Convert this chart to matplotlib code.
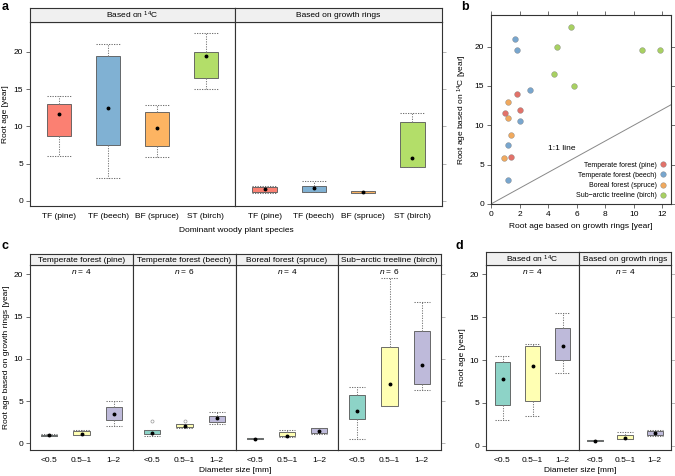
import matplotlib
matplotlib.use('Agg')
import matplotlib.pyplot as plt
from matplotlib.lines import Line2D

# --- panel a : root age per species ---
species = ['TF (pine)', 'TF (beech)', 'BF (spruce)', 'ST (birch)']
sp_colors = ['#FB8072', '#80B1D3', '#FDB462', '#B3DE69']
a_c14_lo = [6.0, 3.0, 5.9, 15.0]
a_c14_q1 = [8.7, 7.5, 7.3, 16.5]
a_c14_med = [11.7, 12.5, 9.8, 19.5]
a_c14_q3 = [13.0, 19.5, 11.9, 20.0]
a_c14_hi = [14.0, 21.0, 12.9, 22.5]
a_gr_lo = [1.0, 1.15, 1.0, 4.5]
a_gr_q1 = [1.15, 1.15, 1.1, 4.5]
a_gr_med = [1.55, 1.7, 1.15, 5.7]
a_gr_q3 = [1.9, 2.0, 1.25, 10.6]
a_gr_hi = [2.0, 2.65, 1.35, 11.8]

# --- panel b : scatter 14C vs growth rings ---
b_labels = ['Temperate forest (pine)', 'Temperate forest (beech)',
            'Boreal forest (spruce)', 'Sub\u2212arctic treeline (birch)']
b_colors = ['#E2726A', '#78A6CE', '#F0A95E', '#A8D062']
b_gr = [[1.8, 2.0, 1.0, 1.4],
        [1.7, 1.8, 2.7, 2.0, 1.2, 1.2],
        [1.2, 1.2, 1.4, 0.9],
        [5.6, 4.6, 10.6, 11.8, 4.4, 5.8]]
b_c14 = [[14.0, 12.0, 11.5, 6.0],
         [21.0, 19.5, 14.5, 10.5, 7.5, 3.0],
         [12.9, 10.9, 8.7, 5.9],
         [22.5, 20.0, 19.5, 19.5, 16.5, 15.0]]

# --- panel c : growth ring age per diameter class ---
diam = ['<0.5', '0.5\u20131', '1\u20132']
diam_colors = ['#8DD3C7', '#FFFFB3', '#BEBADA']
forests = ['Temperate forest (pine)', 'Temperate forest (beech)',
           'Boreal forest (spruce)', 'Sub\u2212arctic treeline (birch)']
c_n = [4, 6, 4, 6]
c_lo = [[0.85, 1.0, 2.0], [0.85, 1.8, 2.3], [0.45, 0.75, 1.1], [0.5, 4.4, 6.3]]
c_q1 = [[0.88, 1.0, 2.7], [1.1, 1.9, 2.5], [0.48, 0.8, 1.2], [2.85, 4.4, 7.0]]
c_med = [[0.95, 1.15, 3.5], [1.25, 2.0, 3.0], [0.5, 0.9, 1.45], [3.8, 7.0, 9.3]]
c_q3 = [[1.0, 1.45, 4.25], [1.6, 2.25, 3.2], [0.6, 1.3, 1.75], [5.7, 11.4, 13.3]]
c_hi = [[1.05, 1.55, 5.0], [1.6, 2.25, 3.7], [0.65, 1.55, 1.85], [6.7, 19.6, 16.7]]
c_out = [[[], [], []], [[2.65], [2.65], []], [[], [], []], [[], [], []]]

# --- panel d : spruce, 14C vs growth rings per diameter class ---
methods = ['Based on $^{14}$C', 'Based on growth rings']
d_n = [4, 4]
d_lo = [[3.0, 3.5, 8.5], [0.5, 0.75, 1.1]]
d_q1 = [[4.75, 5.2, 10.0], [0.55, 0.8, 1.2]]
d_med = [[7.8, 9.25, 11.7], [0.6, 0.9, 1.45]]
d_q3 = [[9.75, 11.65, 13.7], [0.65, 1.3, 1.75]]
d_hi = [[10.5, 11.9, 15.5], [0.7, 1.55, 1.85]]

W, H = 675, 476
FRAME = '#333333'


def px_axes(fig, x0, y0, x1, y1):
    # axes placed with pixel coords (top-left origin)
    return fig.add_axes([x0 / W, 1 - y1 / H, (x1 - x0) / W, (y1 - y0) / H])


def strip(fig, x0, y0, x1, y1, text):
    s = px_axes(fig, x0, y0, x1, y1)
    s.set_facecolor('#F0F0F0')
    s.set_xticks([])
    s.set_yticks([])
    for sp in s.spines.values():
        sp.set_color(FRAME)
        sp.set_linewidth(0.8)
    s.text(0.5, 0.45, text, ha='center', va='center', fontsize=6,
           transform=s.transAxes)
    return s


def draw_boxes(ax, lo, q1, med, q3, hi, colors, width, fliers=None):
    pos = list(range(1, len(med) + 1))
    stats = []
    for i in range(len(med)):
        stats.append(dict(whislo=lo[i], q1=q1[i], med=med[i], q3=q3[i],
                          whishi=hi[i], fliers=fliers[i] if fliers else []))
    dots = (0, (1.2, 1.2))
    bp = ax.bxp(stats, positions=pos, widths=width, capwidths=width,
                patch_artist=True, showfliers=True,
                boxprops=dict(edgecolor='#555555', linewidth=0.6),
                whiskerprops=dict(color='#808080', linestyle=dots, linewidth=0.75),
                capprops=dict(color='#707070', linestyle=dots, linewidth=0.75),
                medianprops=dict(visible=False),
                flierprops=dict(marker='o', markersize=2.2, markerfacecolor='none',
                                markeredgecolor='#999999', markeredgewidth=0.5))
    for patch, c in zip(bp['boxes'], colors):
        patch.set_facecolor(c)
    ax.plot(pos, med, 'o', color='black', markersize=1.8, zorder=5)


def style_panel(ax, xlim, ylim, labels, left=False, right=False):
    ax.set_xlim(*xlim)
    ax.set_ylim(*ylim)
    ax.set_xticks(range(1, len(labels) + 1))
    ax.set_xticklabels(labels, fontsize=6)
    ax.tick_params(axis='x', length=0, pad=5)
    ax.set_yticks([0, 5, 10, 15, 20])
    ax.tick_params(axis='y', direction='out', length=3, width=0.6,
                   color='#555555', labelsize=6, pad=2,
                   left=left, labelleft=left, right=right, labelright=False)
    if right:
        ax.tick_params(axis='y', which='major', color='#AAAAAA')
    for sp in ax.spines.values():
        sp.set_color(FRAME)
        sp.set_linewidth(0.8)


def main():
    plt.rcParams['font.family'] = ['Liberation Sans', 'DejaVu Sans']
    plt.rcParams['mathtext.fontset'] = 'custom'
    plt.rcParams['mathtext.rm'] = 'Liberation Sans'
    plt.rcParams['mathtext.it'] = 'Liberation Sans:italic'
    fig = plt.figure(figsize=(W / 100, H / 100), dpi=100)

    # ---------------- a ----------------
    a_parts = [(30, 235, methods[0], a_c14_lo, a_c14_q1, a_c14_med, a_c14_q3, a_c14_hi),
               (235, 442, methods[1], a_gr_lo, a_gr_q1, a_gr_med, a_gr_q3, a_gr_hi)]
    for k, (x0, x1, title, lo, q1, med, q3, hi) in enumerate(a_parts):
        ax = px_axes(fig, x0, 22, x1, 206)
        draw_boxes(ax, lo, q1, med, q3, hi, sp_colors, 0.5)
        style_panel(ax, (0.4, 4.6), (-0.7, 24), species, left=(k == 0), right=(k == 1))
        strip(fig, x0, 8, x1, 22, title)
    fig.text(6 / W, 1 - 114 / H, 'Root age [year]', rotation=90, ha='center',
             va='center', fontsize=6)
    fig.text(236 / W, 1 - 230 / H, 'Dominant woody plant species', ha='center',
             va='center', fontsize=6)

    # ---------------- b ----------------
    bx = px_axes(fig, 491, 15, 671, 204)
    bx.plot([0, 12.6], [0, 12.6], color='#888888', linewidth=0.7)
    for gx, cy, col, lab in zip(b_gr, b_c14, b_colors, b_labels):
        bx.scatter(gx, cy, s=17, color=col, edgecolors='#777777', linewidths=0.25,
                   label=lab, zorder=3)
    bx.text(4.95, 7.0, '1:1 line', ha='center', va='center', fontsize=6)
    bx.set_xlim(0, 12.6)
    bx.set_ylim(0, 24)
    bx.set_xticks(range(0, 13, 2))
    bx.set_yticks([0, 5, 10, 15, 20])
    bx.tick_params(direction='out', length=3, width=0.6, color='#555555',
                   labelsize=6, pad=2, top=True, right=True)
    for sp in bx.spines.values():
        sp.set_color(FRAME)
        sp.set_linewidth(0.8)
    bx.set_xlabel('Root age based on growth rings [year]', fontsize=6, labelpad=4)
    bx.set_ylabel('Root age based on $^{14}$C [year]', fontsize=6, labelpad=4)
    handles = [Line2D([], [], marker='o', linestyle='none', markersize=4,
                      markerfacecolor=c, markeredgecolor='#777777',
                      markeredgewidth=0.25) for c in b_colors]
    bx.legend(handles, b_labels, loc='lower right', markerfirst=False,
              frameon=False, fontsize=5, handletextpad=0.3, labelspacing=0.45,
              borderaxespad=0.3, handlelength=1.0)

    # ---------------- c ----------------
    c_edges = [30, 133, 236, 338, 441]
    for k in range(4):
        x0, x1 = c_edges[k], c_edges[k + 1]
        ax = px_axes(fig, x0, 265, x1, 450)
        draw_boxes(ax, c_lo[k], c_q1[k], c_med[k], c_q3[k], c_hi[k],
                   diam_colors, 0.5, c_out[k])
        style_panel(ax, (0.4, 3.6), (-0.8, 21.1), diam, left=(k == 0), right=(k == 3))
        ax.text(2, 20.3, '$n$ = %d' % c_n[k], ha='center', va='center', fontsize=6)
        strip(fig, x0, 254, x1, 265, forests[k])
    fig.text(7 / W, 1 - 357 / H, 'Root age based on growth rings [year]',
             rotation=90, ha='center', va='center', fontsize=6)
    fig.text(235 / W, 1 - 471 / H, 'Diameter size [mm]', ha='center',
             va='center', fontsize=6)

    # ---------------- d ----------------
    d_edges = [486, 579, 671]
    for k in range(2):
        x0, x1 = d_edges[k], d_edges[k + 1]
        ax = px_axes(fig, x0, 265, x1, 450)
        draw_boxes(ax, d_lo[k], d_q1[k], d_med[k], d_q3[k], d_hi[k],
                   diam_colors, 0.53)
        style_panel(ax, (0.45, 3.55), (-0.5, 21.1), diam, left=(k == 0), right=(k == 1))
        ax.text(2, 20.3, '$n$ = %d' % d_n[k], ha='center', va='center', fontsize=6)
        strip(fig, x0, 252, x1, 265, methods[k])
    fig.text(463 / W, 1 - 357 / H, 'Root age [year]', rotation=90, ha='center',
             va='center', fontsize=6)
    fig.text(580 / W, 1 - 471 / H, 'Diameter size [mm]', ha='center',
             va='center', fontsize=6)

    # panel letters
    for lx, ly, letter in [(2, 1, 'a'), (461, 1, 'b'), (2, 240, 'c'), (456, 240, 'd')]:
        fig.text(lx / W, 1 - ly / H, letter, fontsize=9, fontweight='bold',
                 ha='left', va='top')

    fig.savefig('out.png', dpi=100)


if __name__ == '__main__':
    main()
